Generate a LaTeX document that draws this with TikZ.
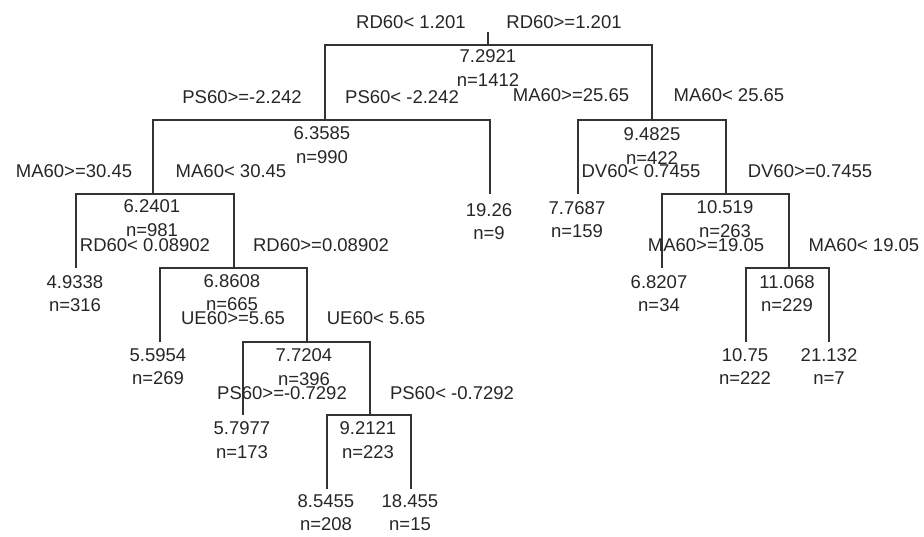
\documentclass[tikz,border=0pt]{standalone}
\usepackage{fontspec}
\setmainfont{Liberation Sans}
\usepackage{xcolor}

\begin{document}
\begin{tikzpicture}[x=1pt,y=-1pt,
  every node/.style={font=\fontsize{18.5}{23.5}\selectfont,text=black!85,inner sep=0pt},
  branch/.style={draw=black!80,line width=1.4pt},
  stat/.style={align=center}]
\useasboundingbox (0,0) rectangle (924,536);
% split points
\coordinate (top) at (488,32);
\coordinate (s1) at (488,45);
\coordinate (s2) at (325,120);
\coordinate (s3) at (652,120);
\coordinate (s4) at (153,194);
\coordinate (s5) at (726,194);
\coordinate (s6) at (234,268);
\coordinate (s7) at (789,268);
\coordinate (s8) at (307,342);
\coordinate (s9) at (370,415);
% leaf ends
\coordinate (l1) at (490,194);
\coordinate (l2) at (578,194);
\coordinate (l3) at (76,268);
\coordinate (l4) at (662,268);
\coordinate (l5) at (160,342);
\coordinate (l6) at (746,342);
\coordinate (l7) at (829,342);
\coordinate (l8) at (243,415);
\coordinate (l9) at (327,489);
\coordinate (l10) at (411,489);
% branches
\draw[branch] (top) -- (s1);
\draw[branch] (s2) |- (s1) -| (s3);
\draw[branch] (s4) |- (s2) -| (l1);
\draw[branch] (l2) |- (s3) -| (s5);
\draw[branch] (l3) |- (s4) -| (s6);
\draw[branch] (l4) |- (s5) -| (s7);
\draw[branch] (l5) |- (s6) -| (s8);
\draw[branch] (l6) |- (s7) -| (l7);
\draw[branch] (l8) |- (s8) -| (s9);
\draw[branch] (l9) |- (s9) -| (l10);
% split labels
\node (c1l) at (411,22) {RD60< 1.201};
\node (c1r) at (564,22) {RD60>=1.201};
\node (c2l) at (242,97) {PS60>=-2.242};
\node (c2r) at (402,97) {PS60< -2.242};
\node (c3l) at (571,95) {MA60>=25.65};
\node (c3r) at (729,95) {MA60< 25.65};
\node (c4l) at (74,171) {MA60>=30.45};
\node (c4r) at (231,171) {MA60< 30.45};
\node (c5l) at (641,171) {DV60< 0.7455};
\node (c5r) at (810,171) {DV60>=0.7455};
\node (c6l) at (145,245) {RD60< 0.08902};
\node (c6r) at (321,245) {RD60>=0.08902};
\node (c7l) at (706,245) {MA60>=19.05};
\node (c7r) at (864,245) {MA60< 19.05};
\node (c8l) at (233,318) {UE60>=5.65};
\node (c8r) at (376,318) {UE60< 5.65};
\node (c9l) at (282,393) {PS60>=-0.7292};
\node (c9r) at (452,393) {PS60< -0.7292};
% fitted values
\node[stat] (v1) at (488,68) {7.2921\\n=1412};
\node[stat] (v2) at (322,145) {6.3585\\n=990};
\node[stat] (v3) at (652,146) {9.4825\\n=422};
\node[stat] (v4) at (152,218) {6.2401\\n=981};
\node[stat] (v5) at (725,219) {10.519\\n=263};
\node[stat] (v6) at (232,292.5) {6.8608\\n=665};
\node[stat] (v7) at (787,293.5) {11.068\\n=229};
\node[stat] (v8) at (304,367) {7.7204\\n=396};
\node[stat] (v9) at (368,440) {9.2121\\n=223};
\node[stat] (w1) at (489,221.5) {19.26\\n=9};
\node[stat] (w2) at (577,219.5) {7.7687\\n=159};
\node[stat] (w3) at (75,293.5) {4.9338\\n=316};
\node[stat] (w4) at (659,293.5) {6.8207\\n=34};
\node[stat] (w5) at (158,366.5) {5.5954\\n=269};
\node[stat] (w6) at (745,366.5) {10.75\\n=222};
\node[stat] (w7) at (829,366.5) {21.132\\n=7};
\node[stat] (w8) at (242,440) {5.7977\\n=173};
\node[stat] (w9) at (326,512.5) {8.5455\\n=208};
\node[stat] (w10) at (410,512.5) {18.455\\n=15};
\end{tikzpicture}
\end{document}
